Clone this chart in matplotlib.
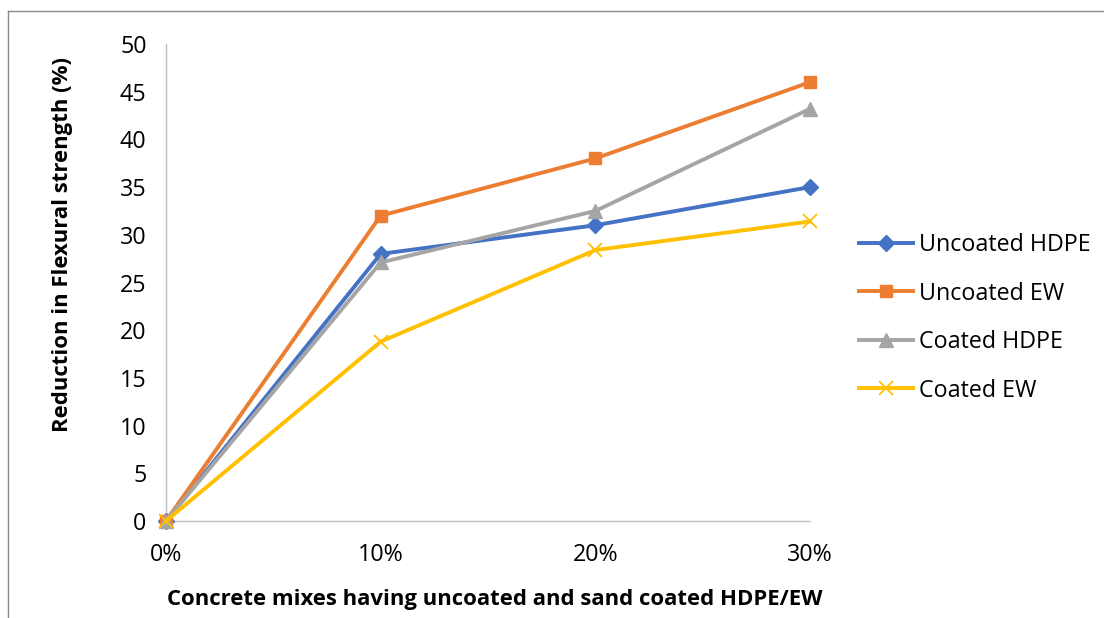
import matplotlib
matplotlib.use("Agg")
import matplotlib.pyplot as plt
from matplotlib.lines import Line2D

categories = ["0%", "10%", "20%", "30%"]
uncoated_hdpe = [0, 28.0, 31.0, 35.0]
uncoated_ew = [0, 32.0, 38.0, 46.0]
coated_hdpe = [0, 27.1, 32.5, 43.2]
coated_ew = [0, 18.8, 28.4, 31.4]
series_names = ["Uncoated HDPE", "Uncoated EW", "Coated HDPE", "Coated EW"]
y_ticks = [0, 5, 10, 15, 20, 25, 30, 35, 40, 45, 50]
x_title = "Concrete mixes having uncoated and sand coated HDPE/EW"
y_title = "Reduction in Flexural strength (%)"

plt.rcParams['font.family'] = ['Open Sans', 'DejaVu Sans']
FS = 15

fig = plt.figure(figsize=(11.04, 6.18), dpi=100)
W, H = 1104, 618
ax = fig.add_axes([166 / W, 1 - 521 / H, (810 - 166) / W, (521 - 44) / H])

x = list(range(len(categories)))
styles = [
    (uncoated_hdpe, "#4472C4", "D", 8, {}),
    (uncoated_ew, "#ED7D31", "s", 9, {}),
    (coated_hdpe, "#A5A5A5", "^", 10, {}),
    (coated_ew, "#FFC000", "x", 10, {"markeredgewidth": 1.3}),
]
for (vals, col, mk, ms, extra), name in zip(styles, series_names):
    ax.plot(x, vals, color=col, lw=2.8, marker=mk, markersize=ms,
            markerfacecolor=col, markeredgecolor=col, label=name,
            clip_on=False, zorder=3, **extra)

ax.set_xlim(0, 3)
ax.set_ylim(0, 50)
ax.set_xticks(x)
ax.set_xticklabels(categories)
ax.set_yticks(y_ticks)
for s in ["top", "right"]:
    ax.spines[s].set_visible(False)
for s in ["left", "bottom"]:
    ax.spines[s].set_color("#BFBFBF")
    ax.spines[s].set_linewidth(1.0)

ytxt = fig.text(63 / W, 1 - 244 / H, y_title, rotation=90, ha='center',
                va='center', fontsize=FS, fontweight='bold')
xtxt = fig.text(495 / W, 1 - 600 / H, x_title, ha='center', va='center',
                fontsize=FS, fontweight='bold')

# fit title size to the reference length of the y title (~372 px)
fig.canvas.draw()
r = fig.canvas.get_renderer()
cur = ytxt.get_window_extent(r).height
tfs = FS * 376 / cur
ytxt.set_fontsize(tfs)
xtxt.set_fontsize(tfs)

# fit legend/tick font size to "Uncoated HDPE" width (~170 px)
tmp = fig.text(0, 0, series_names[0], fontsize=FS)
fig.canvas.draw()
lfs = FS * 172 / tmp.get_window_extent(r).width
tmp.remove()

ax.tick_params(axis='both', length=0, labelsize=lfs, labelcolor='#000000')
ax.tick_params(axis='y', pad=14)
ax.tick_params(axis='x', pad=16)

def make_legend(anchor_y, spacing):
    return fig.legend(loc='upper left', bbox_to_anchor=(850 / W, anchor_y),
                      frameon=False, fontsize=lfs, handlelength=2.3,
                      handletextpad=0.25, labelspacing=spacing, borderaxespad=0)

anchor = 1 - 228 / H
sp = 1.2
leg = make_legend(anchor, sp)
fig.canvas.draw()
t = leg.get_texts()
c0 = t[0].get_window_extent(r)
c1 = t[1].get_window_extent(r)
pitch = (c0.y0 + c0.y1) / 2 - (c1.y0 + c1.y1) / 2
sp = sp + (48.5 - pitch) / (lfs * 100 / 72)
leg.remove()
leg = make_legend(anchor, sp)
fig.canvas.draw()
c0 = leg.get_texts()[0].get_window_extent(r)
cy = H - (c0.y0 + c0.y1) / 2
anchor = anchor + (cy - 245) / H
leg.remove()
leg = make_legend(anchor, sp)

# chart border (partially visible)
fig.add_artist(Line2D([8 / W, 1], [1 - 11 / H, 1 - 11 / H], color="#8C8C8C", lw=1.0))
fig.add_artist(Line2D([8 / W, 8 / W], [0, 1 - 11 / H], color="#8C8C8C", lw=1.0))

fig.savefig("out.png", dpi=100)
